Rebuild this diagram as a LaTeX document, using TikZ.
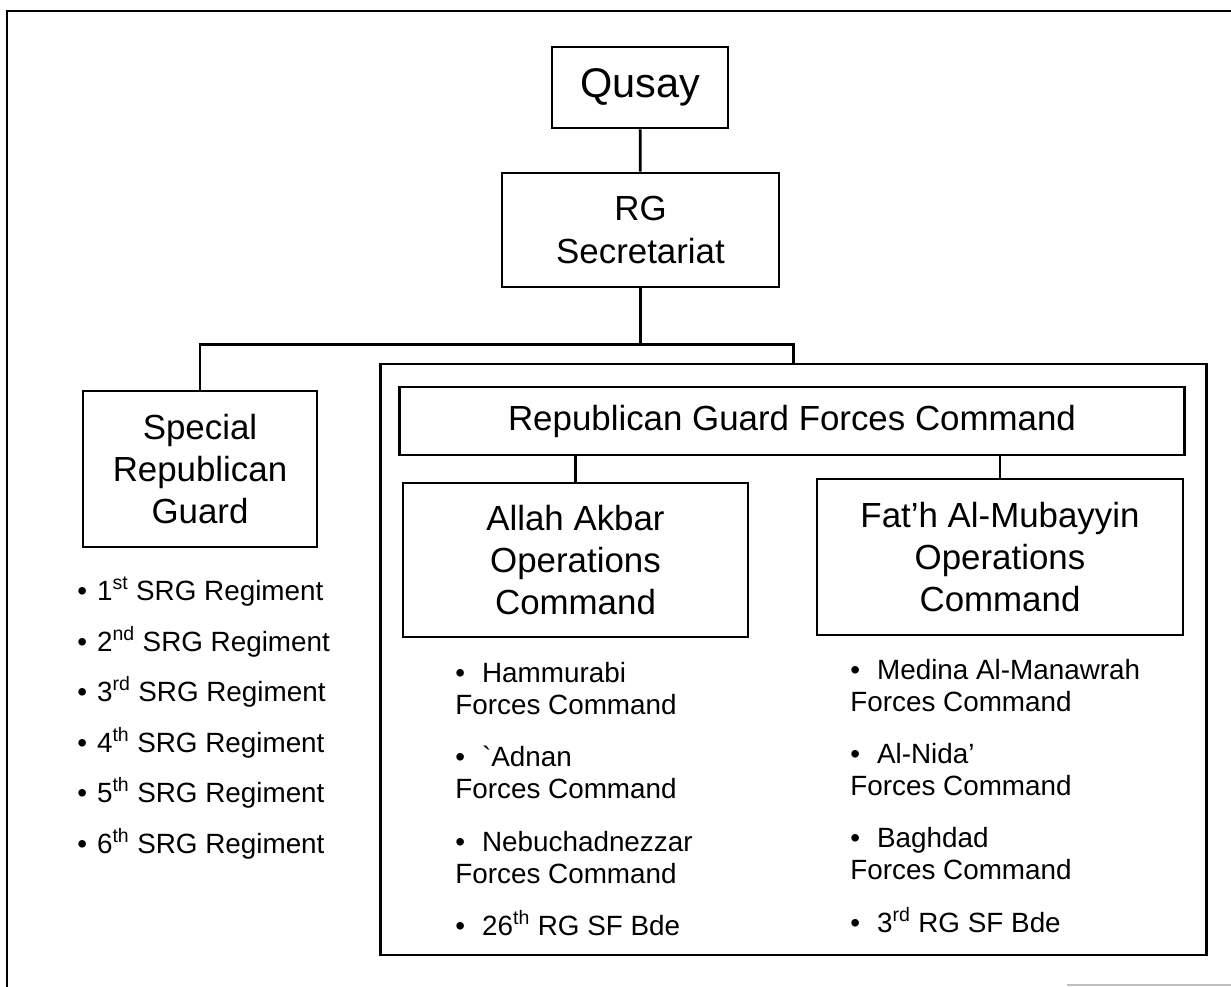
\documentclass[tikz,border=0pt]{standalone}
\usepackage{fontspec}
\setmainfont{Liberation Sans}
\usetikzlibrary{calc}

\tikzset{
  box/.style={draw, line width=2pt, align=center, inner sep=0pt,
    font=\fontsize{24.8}{30}\selectfont},
  item/.style={inner sep=0pt, anchor=base west,
    font=\fontsize{19.8}{23}\selectfont},
}
\newcommand{\bul}[1]{\makebox[#1][l]{\textbullet}}
\newcommand{\twolines}[2]{\begin{tabular}[t]{@{}l@{}}#1\\#2\end{tabular}}

\begin{document}
\begin{tikzpicture}[x=0.025cm, y=-0.025cm, line width=2pt]
      \useasboundingbox (0,0) rectangle (1231,987);

      % outer frame
      \draw (1231,11) -- (7,11) -- (7,987);
      \draw[gray!50, line width=1pt] (1067,985) -- (1231,985);

      \node[box, minimum width=4.4cm, minimum height=2.025cm,
        font=\fontsize{29.5}{34}\selectfont] (qusay) at (640,87.5) {Qusay};
      \node[box, minimum width=6.925cm, minimum height=2.85cm] (secr) at (640.5,230) {RG\\Secretariat};
      \node[box, minimum width=5.85cm, minimum height=3.9cm] (srg) at (200,469) {Special\\Republican\\Guard};

      \node[draw, line width=2pt, minimum width=20.625cm, minimum height=14.775cm] (rgframe) at (793.5,659.5) {};
      \node[box, minimum width=19.6cm, minimum height=1.7cm] (rgfc) at (792,421) {Republican Guard Forces Command};
      \node[box, minimum width=8.625cm, minimum height=3.85cm] (allah) at (575.5,560) {Allah Akbar\\Operations\\Command};
      \node[box, minimum width=9.15cm, minimum height=3.9cm] (fath) at (1000,557) {Fat’h Al-Mubayyin\\Operations\\Command};

      % connectors
      \coordinate (split) at ($(secr.south)+(0,56)$);
      \draw (qusay) -- (secr);
      \draw (secr) -- (split);
      \draw (srg.north) |- (split) -| (rgframe.north);
      \draw (allah.north) -- (allah.north |- rgfc.south);
      \draw (fath.north) -- (fath.north |- rgfc.south);

      % SRG regiments
      \foreach \num/\suf/\yy in {1/st/600, 2/nd/651, 3/rd/701, 4/th/752, 5/th/802, 6/th/853}
        \node[item] (reg\num) at (76,\yy) {\bul{14pt}\num\textsuperscript{\suf} SRG Regiment};

      % Allah Akbar units
      \node[item] (hamm) at (454,682) {\twolines{\bul{19pt}Hammurabi}{Forces Command}};
      \node[item] (adnan) at (454,766) {\twolines{\bul{19pt}\textasciigrave Adnan}{Forces Command}};
      \node[item] (nebu) at (454,851) {\twolines{\bul{19pt}Nebuchadnezzar}{Forces Command}};
      \node[item] (sfa) at (454,935) {\bul{19pt}26\textsuperscript{th} RG SF Bde};

      % Fat'h Al-Mubayyin units
      \node[item] (medina) at (849,679) {\twolines{\bul{19pt}Medina Al-Manawrah}{Forces Command}};
      \node[item] (nida) at (849,763) {\twolines{\bul{19pt}Al-Nida’}{Forces Command}};
      \node[item] (bagh) at (849,847) {\twolines{\bul{19pt}Baghdad}{Forces Command}};
      \node[item] (sfb) at (849,932) {\bul{19pt}3\textsuperscript{rd} RG SF Bde};

\end{tikzpicture}
\end{document}
